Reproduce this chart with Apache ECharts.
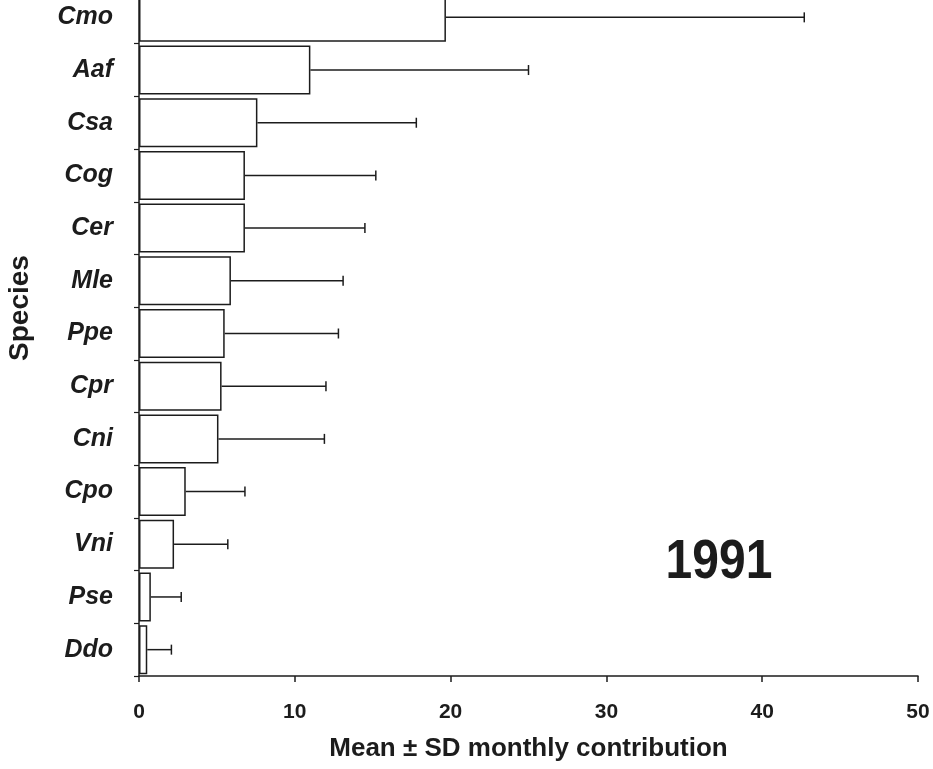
<!DOCTYPE html>
<html>
<head>
<meta charset="utf-8">
<script src="https://cdn.jsdelivr.net/npm/echarts@6/dist/echarts.min.js"></script>
<style>
html,body{margin:0;padding:0;background:#fff;}
#chart{width:933px;height:769px;}
</style>
</head>
<body>
<div id="chart"></div>
<script>
var species = ['Cmo','Aaf','Csa','Cog','Cer','Mle','Ppe','Cpr','Cni','Cpo','Vni','Pse','Ddo'];
var meanValues = [19.7, 11.0, 7.6, 6.8, 6.8, 5.9, 5.5, 5.3, 5.1, 3.0, 2.25, 0.76, 0.53];
var sdValues = [23.0, 14.0, 10.2, 8.4, 7.7, 7.2, 7.3, 6.7, 6.8, 3.8, 3.45, 1.95, 1.55];
var xTicks = [0, 10, 20, 30, 40, 50];
var yearLabel = '1991';
var xTitle = 'Mean ± SD monthly contribution';
var yTitle = 'Species';

var errData = species.map(function (s, i) {
  return [i, meanValues[i], meanValues[i] + sdValues[i]];
});

var ink = '#1c1c1c';
var chart = echarts.init(document.getElementById('chart'));
chart.setOption({
  backgroundColor: '#ffffff',
  animation: false,
  grid: { left: 139, right: 15, top: -9, height: 685, containLabel: false, outerBoundsMode: 'none' },
  xAxis: {
    type: 'value',
    min: xTicks[0],
    max: xTicks[xTicks.length - 1],
    interval: 10,
    name: xTitle,
    nameLocation: 'middle',
    nameGap: 60,
    nameTextStyle: { fontFamily: 'Liberation Sans, Arial', fontWeight: 'bold', fontSize: 26, color: ink },
    axisLine: { show: true, lineStyle: { color: ink, width: 1.5 } },
    axisTick: { show: true, length: 6, lineStyle: { color: ink, width: 1.5 } },
    axisLabel: { fontFamily: 'Liberation Sans, Arial', fontWeight: 'bold', fontSize: 21, color: ink, margin: 26 },
    splitLine: { show: false }
  },
  yAxis: {
    type: 'category',
    data: species,
    inverse: true,
    axisLine: { show: true, lineStyle: { color: ink, width: 1.5 } },
    axisTick: { show: true, length: 5, lineStyle: { color: ink, width: 1.2 } },
    axisLabel: { fontFamily: 'Liberation Sans, Arial', fontWeight: 'bold', fontStyle: 'italic', fontSize: 25, color: ink, margin: 26 }
  },
  series: [
    {
      type: 'bar',
      data: meanValues,
      barCategoryGap: '7%',
      itemStyle: { color: '#ffffff', borderColor: ink, borderWidth: 1.5 },
      z: 2
    },
    {
      type: 'custom',
      data: errData,
      encode: { y: 0, x: [1, 2] },
      z: 3,
      renderItem: function (params, api) {
        var cat = api.value(0);
        var p0 = api.coord([api.value(1), cat]);
        var p1 = api.coord([api.value(2), cat]);
        var h = 5;
        return {
          type: 'group',
          children: [
            { type: 'line', shape: { x1: p0[0], y1: p0[1], x2: p1[0], y2: p1[1] }, style: { stroke: ink, lineWidth: 1.5 } },
            { type: 'line', shape: { x1: p1[0], y1: p1[1] - h, x2: p1[0], y2: p1[1] + h }, style: { stroke: ink, lineWidth: 1.5 } }
          ]
        };
      }
    }
  ],
  graphic: [
    {
      type: 'text',
      x: 719,
      y: 563,
      scaleY: 1.15,
      style: { text: yearLabel, font: 'bold 48px "Liberation Sans", Arial', fill: ink, align: 'center', verticalAlign: 'middle' }
    },
    {
      type: 'text',
      x: 20,
      y: 308,
      rotation: Math.PI / 2,
      style: { text: yTitle, font: 'bold 28px "Liberation Sans", Arial', fill: ink, align: 'center', verticalAlign: 'middle' }
    }
  ]
});
</script>
</body>
</html>
